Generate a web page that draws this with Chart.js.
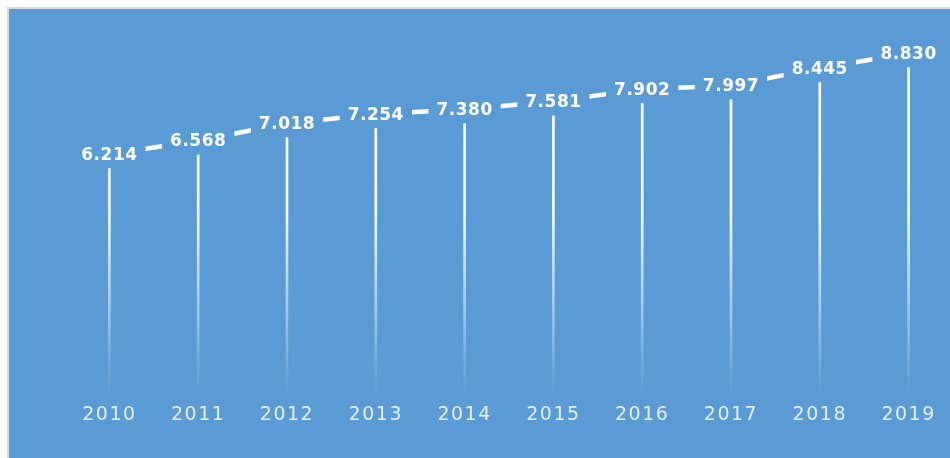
<!DOCTYPE html>
<html>
<head>
<meta charset="utf-8">
<script src="https://cdn.jsdelivr.net/npm/chart.js@4"></script>
<style>
    html, body {
        margin: 0;
        padding: 0;
        background: #ffffff;
        overflow: hidden;
        width: 950px;
        height: 458px;
    }
    #chartBox {
        position: absolute;
        left: 7px;
        top: 7px;
        width: 990px;
        height: 449px;
        border-left: 2px solid #d9d9d9;
        border-top: 2px solid #d9d9d9;
        background: #5b9bd5;
    }
</style>
</head>
<body>
<div id="chartBox">
    <canvas id="progressChart" width="990" height="449"></canvas>
</div>
<script>
const years = ["2010", "2011", "2012", "2013", "2014", "2015", "2016", "2017", "2018", "2019"];
const values = [6.214, 6.568, 7.018, 7.254, 7.380, 7.581, 7.902, 7.997, 8.445, 8.830];

const BLUE = "#5b9bd5";

// Tick labels are spaced out a little
const spacingPlugin = {
    id: "spacing",
    beforeDraw(chart) {
        chart.ctx.letterSpacing = "1.5px";
    },
    beforeDatasetsDraw(chart) {
        chart.ctx.letterSpacing = "0px";
    },
};

// Value labels sit on the points with a blue box that hides the line behind them
const valueLabels = {
    id: "valueLabels",
    afterDatasetsDraw(chart) {
        const ctx = chart.ctx;
        const meta = chart.getDatasetMeta(0);
        ctx.save();
        ctx.font = "bold 17px 'DejaVu Sans'";
        ctx.letterSpacing = "0.5px";
        ctx.textAlign = "center";
        ctx.textBaseline = "middle";
        meta.data.forEach((pt, i) => {
            const text = values[i].toFixed(3);
            const w = ctx.measureText(text).width + 16;
            ctx.fillStyle = BLUE;
            ctx.fillRect(pt.x - w / 2, pt.y - 14, w, 28);
            ctx.fillStyle = "#ffffff";
            ctx.fillText(text, pt.x, pt.y + 1);
        });
        ctx.restore();
    },
};

const ctx = document.getElementById("progressChart").getContext("2d");

new Chart(ctx, {
    type: "bar",
    data: {
        labels: years,
        datasets: [
            {
                type: "line",
                data: values,
                borderColor: "#ffffff",
                borderWidth: 4.5,
                pointRadius: 0,
                tension: 0,
                order: 0,
            },
            {
                type: "bar",
                data: values,
                barThickness: 2,
                order: 1,
                backgroundColor: (c) => {
                    const area = c.chart.chartArea;
                    if (!area) return "#ffffff";
                    const g = c.chart.ctx.createLinearGradient(0, area.top, 0, area.bottom);
                    g.addColorStop(0, "rgba(255,255,255,1)");
                    g.addColorStop(0.5, "rgba(255,255,255,0.95)");
                    g.addColorStop(1, "rgba(255,255,255,0)");
                    return g;
                },
            },
        ],
    },
    options: {
        responsive: false,
        animation: false,
        layout: {
            padding: { left: 56, right: 46, top: 18.4, bottom: 21.6 },
        },
        plugins: {
            legend: { display: false },
            tooltip: { enabled: false },
        },
        scales: {
            x: {
                offset: true,
                grid: { display: false, drawTicks: false },
                border: { display: false },
                ticks: {
                    color: "#e6eef8",
                    padding: 9.6,
                    font: { family: "'DejaVu Sans'", size: 19 },
                },
            },
            y: {
                display: false,
                min: 0,
                max: 9.5,
            },
        },
    },
    plugins: [spacingPlugin, valueLabels],
});
</script>
</body>
</html>
